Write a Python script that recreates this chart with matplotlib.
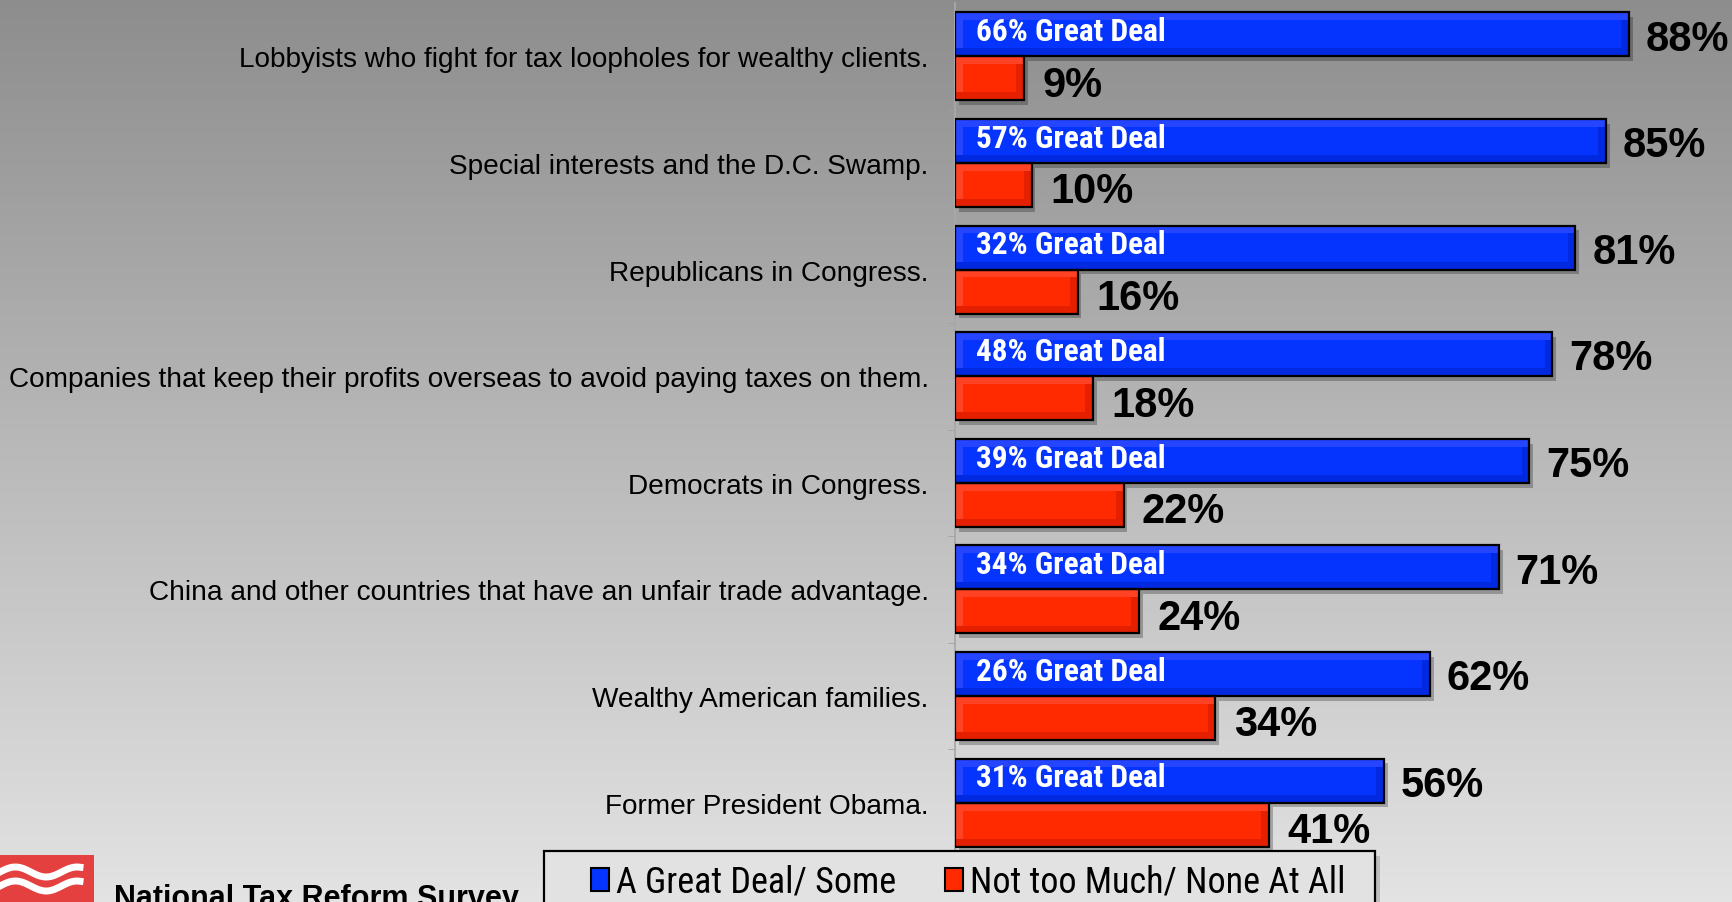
import matplotlib
matplotlib.use("Agg")
import matplotlib.pyplot as plt
import numpy as np
from matplotlib.patches import Rectangle, Patch

categories = [
    "Lobbyists who fight for tax loopholes for wealthy clients.",
    "Special interests and the D.C. Swamp.",
    "Republicans in Congress.",
    "Companies that keep their profits overseas to avoid paying taxes on them.",
    "Democrats in Congress.",
    "China and other countries that have an unfair trade advantage.",
    "Wealthy American families.",
    "Former President Obama.",
]
great_deal_some = [88, 85, 81, 78, 75, 71, 62, 56]
not_too_much = [9, 10, 16, 18, 22, 24, 34, 41]
great_deal = [66, 57, 32, 48, 39, 34, 26, 31]
legend_labels = ["A Great Deal/ Some", "Not too Much/ None At All"]

W, H = 1733, 903
fig = plt.figure(figsize=(W / 100, H / 100), dpi=100)

# background gradient
bg = fig.add_axes([0, 0, 1, 1], zorder=-10)
grad = np.linspace(0, 1, 256).reshape(-1, 1)
bg.imshow(grad, aspect="auto", cmap=matplotlib.colors.LinearSegmentedColormap.from_list(
    "g", ["#8d8d8d", "#b9b9b9", "#e3e3e3"]), extent=[0, 1, 0, 1], origin="upper")
bg.axis("off")

ax = fig.add_axes([955 / W, 1 - 857 / H, 766 / W, 853 / H])
ax.set_facecolor("none")
y = np.arange(len(categories))
h = 0.413
yb = y - h / 2
yr = y + h / 2

blue, blue_hi, blue_lo = "#0634ff", "#2545ff", "#0029e0"
red, red_hi, red_lo = "#ff2a00", "#ff4124", "#e42000"

def bevel_bars(ypos, vals, base, hi, lo):
    # drop shadow
    ax.barh(ypos + 0.045, vals, height=h, left=0.5, color="#000000", alpha=0.25, zorder=1)
    ax.barh(ypos, vals, height=h, color=base, zorder=2)
    # bevel strips
    ax.barh(ypos - h * 0.41, vals, height=h * 0.18, color=hi, zorder=3)
    ax.barh(ypos + h * 0.41, vals, height=h * 0.18, color=lo, zorder=3)
    ax.barh(ypos, [1.0] * len(vals), height=h * 0.64, left=np.array(vals) - 1.0, color=lo, zorder=3)
    ax.barh(ypos, [1.0] * len(vals), height=h * 0.64, color=hi, zorder=3)
    ax.barh(ypos, vals, height=h, fill=False, edgecolor="black", linewidth=1.6, zorder=4)

bevel_bars(yb, great_deal_some, blue, blue_hi, blue_lo)
bevel_bars(yr, not_too_much, red, red_hi, red_lo)

narrow = ["Roboto Condensed", "Liberation Sans"]
for i in range(len(categories)):
    ax.text(great_deal_some[i] + 2.2, yb[i] + 0.04, f"{great_deal_some[i]}%", fontsize=30,
            fontweight="bold", family="Liberation Sans", va="center", ha="left", zorder=5)
    ax.text(not_too_much[i] + 2.4, yr[i] + 0.06, f"{not_too_much[i]}%", fontsize=30,
            fontweight="bold", family="Liberation Sans", va="center", ha="left", zorder=5)
    ax.text(2.8, yb[i] - 0.03, f"{great_deal[i]}% Great Deal", fontsize=22.5, fontweight="bold",
            family=narrow, color="white", va="center", ha="left", zorder=5)

ax.set_xlim(0, 100)
ax.set_ylim(len(categories) - 0.5, -0.5)
ax.set_yticks(y)
ax.set_yticklabels(categories, fontsize=20.2, family="Liberation Sans")
ax.tick_params(axis="y", which="major", length=0, pad=19)
ax.set_yticks(np.arange(len(categories)) + 0.5, minor=True)
ax.tick_params(axis="y", which="minor", length=5, color="#a0a0a0")
ax.set_xticks([])
for s in ["top", "right", "bottom"]:
    ax.spines[s].set_visible(False)
ax.spines["left"].set_color("#a8a8a8")
ax.spines["left"].set_linewidth(1.3)

# legend box
lx0, ly0, lx1 = 544 / W, 1 - 905 / H, 1375 / W
fig.patches.append(Rectangle((lx0 + 5 / W, ly0 - 5 / H), lx1 - lx0, 53 / H, transform=fig.transFigure,
                             facecolor="#9a9a9a", alpha=0.5, edgecolor="none", zorder=1))
fig.patches.append(Rectangle((lx0, ly0), lx1 - lx0, 53 / H, transform=fig.transFigure,
                             facecolor="#e2e2e2", edgecolor="black", linewidth=1.6, zorder=2))
handles = [Patch(facecolor=blue, edgecolor="black", linewidth=1.5),
           Patch(facecolor=red, edgecolor="black", linewidth=1.5)]
leg = fig.legend(handles, legend_labels, loc="center left", bbox_to_anchor=(591 / W, 1 - 883 / H),
                 ncol=2, frameon=False, prop={"family": narrow, "size": 26},
                 handlelength=0.5, handleheight=0.6, handletextpad=0.2, columnspacing=1.35,
                 borderpad=0, borderaxespad=0)
leg.set_zorder(3)

# logo
fig.patches.append(Rectangle((0, 0), 94 / W, 47 / H, transform=fig.transFigure,
                             facecolor="#e44040", edgecolor="none", zorder=2))
t = np.linspace(0, 1, 50)
for off in [30, 16]:
    xs = t * 80 / W
    ys = (off + 5 * np.sin(t * 2 * np.pi * 1.3)) / H
    fig.lines.append(plt.Line2D(xs, ys, transform=fig.transFigure, color="white", linewidth=5, zorder=3))
fig.text(114 / W, 1 - 884 / H, "National Tax Reform Survey", fontsize=22, fontweight="bold",
         family="Liberation Sans", va="top", ha="left")

fig.savefig("out.png", dpi=100)
